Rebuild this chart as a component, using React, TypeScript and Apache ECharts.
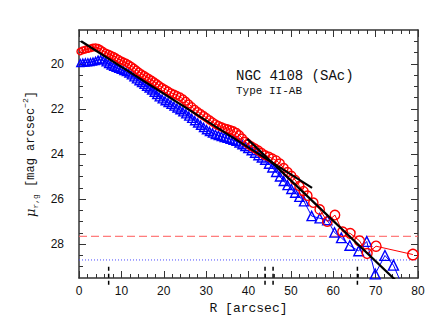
import React, { useEffect, useRef } from "react";
import * as echarts from "echarts";

// r-band profile (red circles)
const redR = [0.3, 0.9, 1.5, 2.1, 2.7, 3.3, 3.9, 4.5, 5.1, 5.7, 6.3, 6.9, 7.5, 8.1, 8.7, 9.3, 9.9, 10.5, 11.1, 11.7, 12.3, 12.9, 13.5, 14.1, 14.7, 15.3, 15.9, 16.5, 17.1, 17.7, 18.3, 18.9, 19.6, 20.3, 21.0, 21.7, 22.4, 23.1, 23.8, 24.5, 25.2, 25.9, 26.6, 27.3, 28.0, 28.7, 29.4, 30.1, 30.8, 31.5, 32.2, 32.9, 33.6, 34.3, 35.0, 35.7, 36.4, 37.1, 37.8, 38.5, 39.2, 39.9, 40.7, 41.5, 42.3, 43.1, 43.9, 44.8, 45.6, 46.5, 47.4, 48.3, 49.2, 50.1, 51.0, 52.0, 53.0, 53.9, 55.3, 56.8, 58.6, 60.4, 62.2, 64.0, 66.2, 68.0, 70.1, 78.8];
const redMu = [19.45, 19.40, 19.37, 19.34, 19.31, 19.28, 19.27, 19.29, 19.35, 19.43, 19.50, 19.55, 19.60, 19.65, 19.71, 19.78, 19.85, 19.90, 19.95, 20.02, 20.09, 20.17, 20.26, 20.35, 20.43, 20.50, 20.57, 20.64, 20.71, 20.79, 20.87, 20.95, 21.04, 21.12, 21.20, 21.28, 21.34, 21.40, 21.46, 21.55, 21.66, 21.78, 21.90, 22.02, 22.12, 22.21, 22.30, 22.39, 22.49, 22.58, 22.67, 22.74, 22.80, 22.85, 22.89, 22.93, 22.98, 23.05, 23.16, 23.30, 23.45, 23.56, 23.66, 23.75, 23.84, 23.95, 24.05, 24.12, 24.20, 24.28, 24.42, 24.62, 24.80, 24.97, 25.15, 25.42, 25.65, 25.85, 26.16, 26.46, 27.00, 26.71, 27.45, 27.52, 27.85, 28.41, 28.09, 28.46];

// g-band profile (blue triangles)
const blueR = [0.3, 0.9, 1.5, 2.1, 2.7, 3.3, 3.9, 4.5, 5.1, 5.7, 6.3, 6.9, 7.5, 8.1, 8.7, 9.3, 9.9, 10.5, 11.1, 11.7, 12.3, 12.9, 13.5, 14.1, 14.7, 15.3, 15.9, 16.5, 17.1, 17.7, 18.3, 18.9, 19.6, 20.3, 21.0, 21.7, 22.4, 23.1, 23.8, 24.5, 25.2, 25.9, 26.6, 27.3, 28.0, 28.7, 29.4, 30.1, 30.8, 31.5, 32.2, 32.9, 33.6, 34.3, 35.0, 35.7, 36.4, 37.1, 37.8, 38.5, 39.2, 39.9, 40.7, 41.5, 42.3, 43.1, 43.9, 44.8, 45.6, 46.5, 47.4, 48.3, 49.2, 50.1, 51.0, 52.0, 53.1, 54.9, 56.8, 58.6, 60.3, 61.9, 63.9, 66.0, 67.9, 69.9, 72.2, 74.2, 75.8];
const blueMu = [19.97, 19.95, 19.94, 19.93, 19.92, 19.90, 19.87, 19.82, 19.80, 19.85, 19.93, 20.00, 20.07, 20.12, 20.17, 20.21, 20.26, 20.31, 20.36, 20.42, 20.50, 20.59, 20.68, 20.76, 20.84, 20.92, 21.00, 21.08, 21.17, 21.27, 21.37, 21.47, 21.56, 21.64, 21.72, 21.80, 21.88, 21.96, 22.04, 22.13, 22.22, 22.32, 22.42, 22.52, 22.62, 22.72, 22.82, 22.92, 23.00, 23.07, 23.13, 23.18, 23.22, 23.26, 23.30, 23.34, 23.38, 23.43, 23.50, 23.58, 23.66, 23.74, 23.84, 23.95, 24.06, 24.16, 24.26, 24.44, 24.60, 24.80, 25.00, 25.20, 25.38, 25.55, 25.72, 25.90, 26.10, 26.75, 26.85, 26.93, 27.48, 27.72, 28.06, 28.30, 27.88, 29.32, 28.50, 28.93, 29.62];

// fitted exponential discs (straight lines in magnitudes)
const innerFitR = [0.5, 55.0];
const innerFitMu = [19.0, 25.5];
const outerFitR = [39.7, 75.5];
const outerFitMu = [23.33, 29.74];

// sky limits
const redLimit = 27.65;
const blueLimit = 28.7;

// break / boundary markers
const markerR = [7.0, 43.9, 45.8, 65.7];
const markerMu = [29.0, 29.8];

const xTicks = { min: 0, max: 80, interval: 10 };
const yRange = { min: 18.5, max: 29.5 };
const yMajor = [20, 22, 24, 26, 28];
const yMinor = [19, 19.5, 20.5, 21, 21.5, 22.5, 23, 23.5, 24.5, 25, 25.5, 26.5, 27, 27.5, 28.5, 29];

const titleText = "NGC 4108 (SAc)";
const subtitleText = "Type II-AB";

const MONO = "'Liberation Mono', 'DejaVu Sans Mono', monospace";
const SANS = "'Liberation Sans', Arial, sans-serif";
const FRAME = "#333";

const zip = (a: number[], b: number[]) => a.map((v, i) => [v, b[i]]);

export default function App() {
  const ref = useRef<HTMLDivElement>(null);
  useEffect(() => {
    if (!ref.current) return;
    const chart = echarts.init(ref.current, null, { renderer: "svg" });

    const yBase = (pos: "left" | "right", major: boolean, extra: any = {}) => ({
      type: "value",
      min: yRange.min,
      max: yRange.max,
      inverse: true,
      position: pos,
      splitLine: { show: false },
      axisLine: { show: major, lineStyle: { color: FRAME, width: 1.5 } },
      axisTick: {
        show: true,
        inside: true,
        length: major ? 7 : 4,
        customValues: major ? yMajor : yMinor,
        lineStyle: { color: FRAME, width: 1 },
      },
      axisLabel: { show: false },
      ...extra,
    });

    const xBase = (pos: "top" | "bottom", extra: any = {}) => ({
      type: "value",
      min: xTicks.min,
      max: xTicks.max,
      interval: xTicks.interval,
      position: pos,
      splitLine: { show: false },
      axisLine: { show: true, lineStyle: { color: FRAME, width: 1.5 } },
      axisTick: { show: true, inside: true, length: 7, lineStyle: { color: FRAME, width: 1 } },
      minorTick: { show: true, splitNumber: 5, length: 4, lineStyle: { color: FRAME, width: 1 } },
      minorSplitLine: { show: false },
      axisLabel: { show: false },
      ...extra,
    });

    const markerSeries = markerR.map((r) => ({
      type: "line",
      xAxisIndex: 0,
      yAxisIndex: 0,
      clip: false,
      silent: true,
      showSymbol: false,
      z: 5,
      data: markerMu.map((m) => [r, m]),
      lineStyle: { color: "#000", width: 1.5, type: [4, 3] },
    }));

    chart.setOption({
      animation: false,
      grid: { left: 79, right: 12, top: 30, bottom: 55, containLabel: false },
      xAxis: [
        xBase("bottom", {
          axisLabel: { show: true, margin: 7, fontFamily: SANS, fontSize: 12, color: "#111" },
          name: "R [arcsec]",
          nameLocation: "middle",
          nameGap: 16,
          nameTextStyle: { fontFamily: MONO, fontSize: 13, color: "#111" },
        }),
        xBase("top"),
      ],
      yAxis: [
        yBase("left", true, {
          axisLabel: {
            show: true,
            customValues: yMajor,
            margin: 15,
            fontFamily: SANS,
            fontSize: 12,
            color: "#111",
          },
          name: "{mu|μ}{sub|r,g} [mag arcsec{sup|−2}]",
          nameLocation: "middle",
          nameGap: 33,
          nameRotate: 90,
          nameTextStyle: {
            fontFamily: MONO,
            fontSize: 12,
            color: "#111",
            rich: {
              mu: { fontFamily: "'DejaVu Serif', serif", fontStyle: "italic", fontSize: 13, color: "#111", lineHeight: 18 },
              sub: { fontFamily: MONO, fontSize: 8, color: "#111", verticalAlign: "bottom", lineHeight: 9 },
              sup: { fontFamily: MONO, fontSize: 8, color: "#111", verticalAlign: "top", lineHeight: 9 },
            },
          },
        }),
        yBase("left", false),
        yBase("right", true),
        yBase("right", false),
      ],
      graphic: [
        {
          type: "text",
          x: 236,
          y: 76,
          style: { text: titleText, font: `14px ${MONO}`, fill: "#111", verticalAlign: "middle" },
        },
        {
          type: "text",
          x: 236,
          y: 90.5,
          style: { text: subtitleText, font: `11px ${MONO}`, fill: "#111", verticalAlign: "middle" },
        },
      ],
      series: [
        {
          type: "line",
          xAxisIndex: 0,
          yAxisIndex: 0,
          silent: true,
          showSymbol: false,
          data: [
            [xTicks.min, redLimit],
            [xTicks.max, redLimit],
          ],
          lineStyle: { color: "#ff5a5a", width: 1, type: [8, 4] },
          z: 1,
        },
        {
          type: "line",
          xAxisIndex: 0,
          yAxisIndex: 0,
          silent: true,
          showSymbol: false,
          data: [
            [xTicks.min, blueLimit],
            [xTicks.max, blueLimit],
          ],
          lineStyle: { color: "#4a4aff", width: 1, type: [1, 2] },
          z: 1,
        },
        {
          type: "line",
          xAxisIndex: 0,
          yAxisIndex: 0,
          silent: true,
          data: zip(blueR, blueMu),
          symbol: "triangle",
          symbolSize: (v: number[]) => 7 + 0.04 * v[0],
          lineStyle: { color: "#0000ff", width: 1 },
          itemStyle: { color: "rgba(0,0,0,0)", borderColor: "#0000ff", borderWidth: 1.4 },
          z: 2,
        },
        {
          type: "line",
          xAxisIndex: 0,
          yAxisIndex: 0,
          silent: true,
          data: zip(redR, redMu),
          symbol: "circle",
          symbolSize: (v: number[]) => 6.5 + 0.05 * v[0],
          lineStyle: { color: "#ff0000", width: 1 },
          itemStyle: { color: "rgba(0,0,0,0)", borderColor: "#ff0000", borderWidth: 1.4 },
          z: 3,
        },
        {
          type: "line",
          xAxisIndex: 0,
          yAxisIndex: 0,
          silent: true,
          showSymbol: false,
          data: zip(innerFitR, innerFitMu),
          lineStyle: { color: "#000", width: 2.2 },
          z: 4,
        },
        {
          type: "line",
          xAxisIndex: 0,
          yAxisIndex: 0,
          silent: true,
          showSymbol: false,
          data: zip(outerFitR, outerFitMu),
          lineStyle: { color: "#000", width: 2.2 },
          z: 4,
        },
        ...markerSeries,
      ],
    });
    return () => chart.dispose();
  }, []);

  return (
    <div
      ref={ref}
      style={{ position: "absolute", left: 0, top: 0, width: 430, height: 333, background: "#fff" }}
    />
  );
}
